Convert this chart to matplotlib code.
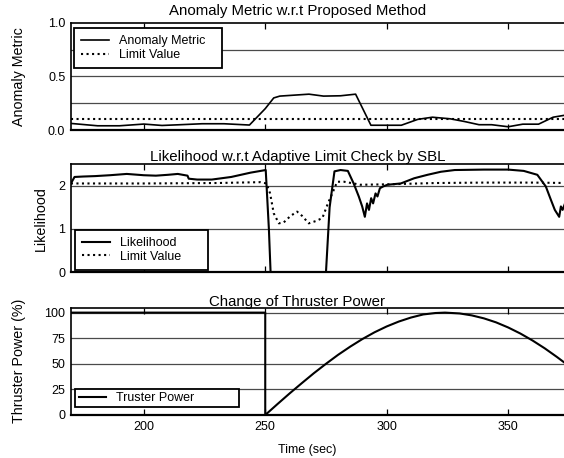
import numpy as np
import matplotlib
matplotlib.use('Agg')
import matplotlib.pyplot as plt

plt.rcParams['font.family'] = ['Liberation Sans', 'DejaVu Sans']

# --- datos ---
# Panel 1: métrica de anomalía
am_t = [170, 181, 190, 200, 207.5, 215, 224, 233, 243.5, 250, 253.5, 256, 268, 274, 281, 287.2,
        293.5, 306, 312.8, 318.8, 326.2, 332, 338, 343.2, 350, 356, 362.5, 368.5, 375]
am_v = [0.062, 0.04, 0.04, 0.056, 0.043, 0.05, 0.059, 0.059, 0.047, 0.2, 0.3, 0.317, 0.335, 0.317, 0.32, 0.335,
        0.045, 0.045, 0.1, 0.12, 0.105, 0.08, 0.05, 0.05, 0.031, 0.055, 0.055, 0.12, 0.145]
am_limit = 0.105

# Panel 2: verosimilitud y límite adaptativo
lk_t = [170, 171.5, 175, 180, 186, 193, 200, 205, 210, 214, 218, 218.5, 222, 228, 236, 244, 250.2, 251.5, 252.2,
        275, 276.5, 278.5, 281, 284, 286.4, 288.5, 289.9, 291, 291.9, 292.7, 293.6, 294.4, 295.4, 296.2,
        297.2, 298.5, 300.3, 305.8, 311.3, 316.8, 322.3, 328, 340, 350, 356.4, 362, 365.5, 367.6, 369.2,
        371, 371.7, 372.4, 373.4, 375]
lk_v = [2.05, 2.2, 2.21, 2.22, 2.24, 2.27, 2.24, 2.23, 2.25, 2.27, 2.23, 2.16, 2.14, 2.14, 2.2, 2.3, 2.36, 1.0, 0.0,
        0.0, 1.5, 2.33, 2.36, 2.34, 2.05, 1.75, 1.52, 1.28, 1.59, 1.44, 1.71, 1.59, 1.82, 1.75,
        1.94, 1.98, 2.02, 2.05, 2.17, 2.25, 2.32, 2.36, 2.37, 2.37, 2.34, 2.25, 1.98, 1.67, 1.44,
        1.28, 1.52, 1.44, 1.59, 1.62]
lim_t = [170, 200, 230, 248, 250.5, 252, 253.5, 255.6, 257.6, 260.4, 263.1, 265.2, 267.9, 270.7, 273.5,
         275.8, 277.6, 279.6, 282.4, 286.4, 289.2, 300, 320, 340, 360, 375]
lim_v = [2.05, 2.05, 2.06, 2.08, 2.05, 1.82, 1.36, 1.13, 1.15, 1.3, 1.4, 1.3, 1.13, 1.18, 1.25,
         1.59, 1.82, 2.09, 2.09, 2.05, 2.02, 2.03, 2.06, 2.07, 2.07, 2.06]

# Panel 3: potencia del propulsor (%)
tp_t = [170, 250, 250, 255, 260, 265, 270, 275, 280, 285, 290, 295, 300, 305, 310, 315, 320, 324,
        330, 335, 340, 345, 350, 355, 360, 365, 370, 375]
tp_v = [100, 100, 0, 10.6, 21, 31, 40.8, 50, 58.8, 66.8, 74.2, 80.8, 86.5, 91.3, 95.2, 98.2, 99.6, 100,
        99.2, 97.3, 94.4, 90.5, 85.5, 79.6, 72.8, 65.2, 56.8, 47.9]

xticks = [200, 250, 300, 350]

fig = plt.figure(figsize=(5.64, 4.58), dpi=100)
left, width = 0.1257, 0.883
ax1 = fig.add_axes([left, 0.716, width, 0.234])
ax2 = fig.add_axes([left, 0.4055, width, 0.2365])
ax3 = fig.add_axes([left, 0.0939, width, 0.2347])

grid_kw = dict(color='#4a4a4a', lw=0.9, zorder=1)
leg_kw = dict(loc='upper left', mode='expand', borderaxespad=0, fontsize=9, handlelength=2.2,
              handletextpad=0.8, fancybox=False, framealpha=1, edgecolor='black')
title_x = 0.455


def style(ax, ylim, yticks, grids):
    ax.set_xlim(170, 375)
    ax.set_ylim(*ylim)
    ax.set_yticks(yticks)
    for g in grids:
        ax.axhline(g, **grid_kw)
    ax.set_xticks(xticks)
    ax.tick_params(axis='x', direction='in', top=True, length=4, width=0.9, labelsize=9, pad=4)
    ax.tick_params(axis='y', length=0, labelsize=9, pad=4)
    for s in ax.spines.values():
        s.set_linewidth(1.2)
    ax.spines['bottom'].set_linewidth(1.6)
    ax.spines['right'].set_visible(False)


# --- Panel 1 ---
ax1.plot(am_t, am_v, color='black', lw=1.2, label='Anomaly Metric', zorder=3)
ax1.axhline(am_limit, color='black', lw=1.5, ls=':', label='Limit Value', zorder=3)
style(ax1, (0, 1), [0, 0.5, 1.0], [0.25, 0.5, 0.75])
ax1.set_yticklabels(['0.0', '0.5', '1.0'])
ax1.set_xticklabels([])
ax1.set_title('Anomaly Metric w.r.t Proposed Method', fontsize=10.8, pad=5.5, x=title_x)
ax1.set_ylabel('Anomaly Metric', fontsize=10.3)
ax1.yaxis.set_label_coords(-0.091, 0.5)
leg1 = ax1.legend(bbox_to_anchor=(0.007, 0.6, 0.296, 0.348), borderpad=0.55, labelspacing=0.15, **leg_kw)
leg1.get_frame().set_linewidth(1.3)

# --- Panel 2 ---
ax2.plot(lk_t, lk_v, color='black', lw=1.5, label='Likelihood', zorder=3)
ax2.plot(lim_t, lim_v, color='black', lw=1.5, ls=':', label='Limit Value', zorder=3)
style(ax2, (0, 2.5), [0, 1, 2], [1, 2])
ax2.set_xticklabels([])
ax2.set_title('Likelihood w.r.t Adaptive Limit Check by SBL', fontsize=10.8, pad=1, x=title_x)
ax2.set_ylabel('Likelihood', fontsize=10.3)
ax2.yaxis.set_label_coords(-0.046, 0.5)
leg2 = ax2.legend(bbox_to_anchor=(0.009, 0.05, 0.266, 0.34), borderpad=0.55, labelspacing=0.15, **leg_kw)
leg2.get_frame().set_linewidth(1.3)

# --- Panel 3 ---
ax3.plot(tp_t, tp_v, color='black', lw=1.5, label='Truster Power', zorder=3)
style(ax3, (0, 105), [0, 25, 50, 75, 100], [25, 50, 75, 100])
ax3.set_title('Change of Thruster Power', fontsize=10.8, pad=1, x=title_x)
ax3.set_ylabel('Thruster Power (%)', fontsize=10.3)
ax3.yaxis.set_label_coords(-0.091, 0.5)
ax3.set_xlabel('Time (sec)', fontsize=9)
ax3.xaxis.set_label_coords((306.5 - 70.9) / 497, -0.27)
leg3 = ax3.legend(bbox_to_anchor=(0.009, 0.06, 0.328, 0.182), borderpad=0.25, **leg_kw)
leg3.get_frame().set_linewidth(1.3)

fig.savefig('out.png', dpi=100)
